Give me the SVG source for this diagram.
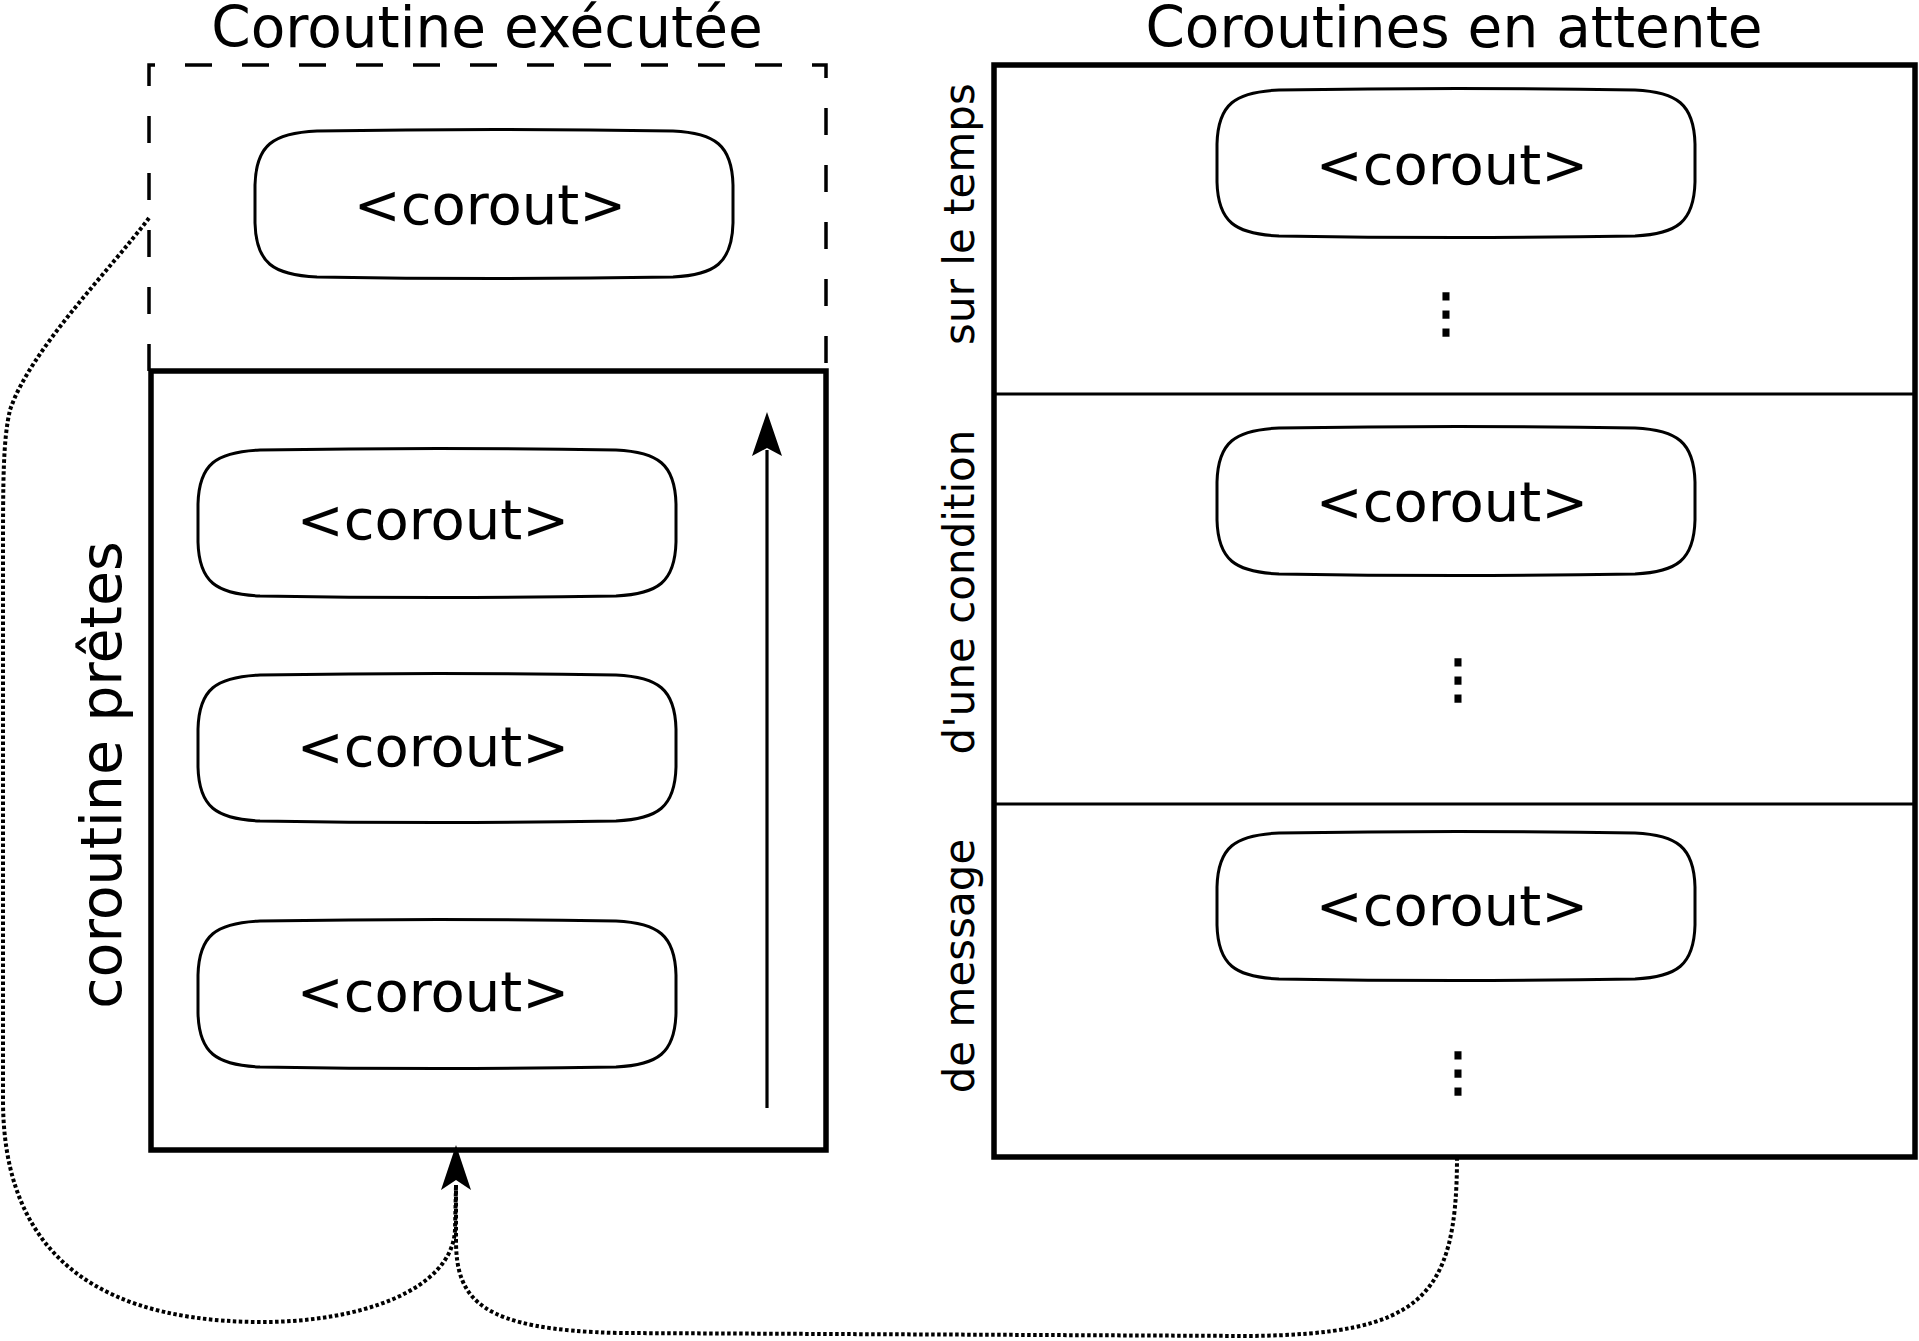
<svg xmlns="http://www.w3.org/2000/svg" width="1919" height="1341" viewBox="0 0 1919 1341">
<style>
text{font-family:"DejaVu Sans","Liberation Sans",sans-serif;fill:#000}
.title{font-size:56.5px;text-anchor:middle}
.lbl{font-size:56px;text-anchor:middle}
.side{font-size:42px;text-anchor:middle}
.side2{font-size:57px;text-anchor:middle}
.dots{font-size:53px;text-anchor:middle;stroke:#000;stroke-width:1.6}
.node{fill:#fff;stroke:#000;stroke-width:3}
.box{fill:none;stroke:#000;stroke-width:5.5}
.div{fill:none;stroke:#000;stroke-width:3.2}
.dash{fill:none;stroke:#000;stroke-width:3.5;stroke-dasharray:27 30}
.dot{fill:none;stroke:#000;stroke-width:4;stroke-dasharray:3.5 2.5}
.arr{fill:none;stroke:#000;stroke-width:3.2}
</style>
<defs>
<path id="shape" d="M62,1 C180,-1 300,-1 418,1 C460,3 477,15 478,55 L478,93 C477,133 460,145 418,147 C300,149 180,149 62,147 C18,145 1,133 0,93 L0,55 C1,15 18,3 62,1 Z"/>
</defs>

<text class="title" x="487" y="47">Coroutine exécutée</text>
<text class="title" x="1454" y="47">Coroutines en attente</text>

<g id="exec-area">
<path class="dash" d="M149,371 L149,65 L826,65 L826,371"/>
</g>

<g id="ready-queue">
<rect class="box" x="151" y="371" width="675" height="779"/>
<text class="side2" transform="translate(121,775) rotate(-90)">coroutine prêtes</text>
</g>

<g id="waiting">
<rect class="box" x="994" y="65" width="921" height="1092"/>
<line class="div" x1="994" y1="394" x2="1915" y2="394"/>
<line class="div" x1="994" y1="804" x2="1915" y2="804"/>
<text class="side" transform="translate(974,214) rotate(-90)">sur le temps</text>
<text class="side" transform="translate(974,592) rotate(-90)">d'une condition</text>
<text class="side" transform="translate(974,966) rotate(-90)">de message</text>
<text class="dots" x="1446" y="331">⋮</text>
<text class="dots" x="1458" y="697">⋮</text>
<text class="dots" x="1458" y="1090">⋮</text>
</g>

<g id="node-exec"><use href="#shape" class="node" transform="translate(255,130)"/><text class="lbl" x="490" y="224">&lt;corout&gt;</text></g>
<g id="node-ready-1"><use href="#shape" class="node" transform="translate(198,449)"/><text class="lbl" x="433" y="539">&lt;corout&gt;</text></g>
<g id="node-ready-2"><use href="#shape" class="node" transform="translate(198,674)"/><text class="lbl" x="433" y="766">&lt;corout&gt;</text></g>
<g id="node-ready-3"><use href="#shape" class="node" transform="translate(198,920)"/><text class="lbl" x="433" y="1011">&lt;corout&gt;</text></g>
<g id="node-wait-1"><use href="#shape" class="node" transform="translate(1217,89)"/><text class="lbl" x="1452" y="184">&lt;corout&gt;</text></g>
<g id="node-wait-2"><use href="#shape" class="node" transform="translate(1217,427)"/><text class="lbl" x="1452" y="521">&lt;corout&gt;</text></g>
<g id="node-wait-3"><use href="#shape" class="node" transform="translate(1217,832)"/><text class="lbl" x="1452" y="925">&lt;corout&gt;</text></g>

<g id="connectors">
<path class="arr" d="M767,1108 L767,450" />
<path d="M767,412 L782,456 L767,448 L752,456 Z" fill="#000"/>
<path class="dot" d="M149,218 C110,270 30,350 10,410 C3,440 3,480 3,560 L3,1100 C3,1230 70,1320 257,1322 C360,1323 452,1290 455,1230 L456,1185"/>
<path class="dot" d="M1457,1157 C1457,1300 1420,1334 1250,1336 L620,1333 C480,1330 456,1300 456,1240 L456,1185"/>
<path d="M456,1145 L471,1190 L456,1180 L441,1190 Z" fill="#000"/>
</g>
</svg>
